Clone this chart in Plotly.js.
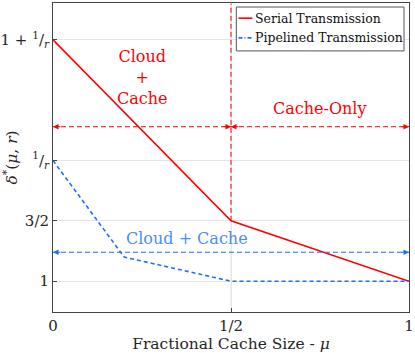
<!DOCTYPE html>
<html>
<head>
<meta charset="utf-8">
<script src="https://cdn.plot.ly/plotly-3.0.1.min.js"></script>
<style>html,body{margin:0;padding:0;background:#fff;}#chart{width:415px;height:353px;}</style>
</head>
<body>
<div id="chart"></div>
<script>
// ---- data ----
const serialX = [0, 0.5, 1];
const serialY = [3, 1.5, 1];
const pipeX = [0, 0.2, 0.5, 1];
const pipeY = [2, 1.2, 1, 1];
const seriesNames = ['Serial Transmission', 'Pipelined Transmission'];
const xTickVals = [0, 0.5, 1];
const xTickText = ['0', '1/2', '1'];
const yTickVals = [1, 1.5, 2, 3];
const yTickText = ['1', '3/2', '<sup>1</sup>/<sub><i>r</i></sub>', '1 + <sup>1</sup>/<sub><i>r</i></sub>'];
const cloudCacheSpan = [0, 0.5];   // red arrow (serial, cloud + cache)
const cacheOnlySpan = [0.5, 1];    // red arrow (serial, cache-only)
const serialArrowY = 2.28;
const pipeSpan = [0, 1];           // blue arrow (pipelined, cloud + cache)
const pipeArrowY = 1.24;
const splitX = 0.5;                // boundary mu = 1/2
const splitYFrom = 1.5;

const RED = '#ff0000';
const BLUE = '#1f6cff';
const FONT = 'DejaVu Serif';
const DASH_PIPE = '4px,3px';

const traces = [
  {x: serialX, y: serialY, mode: 'lines', name: seriesNames[0],
   line: {color: RED, width: 1.6}},
  {x: pipeX, y: pipeY, mode: 'lines', name: seriesNames[1],
   line: {color: BLUE, width: 1.6, dash: DASH_PIPE}}
];

function dashedSpan(span, y, color) {
  return {type: 'line', xref: 'x', yref: 'y', x0: span[0], x1: span[1], y0: y, y1: y,
          line: {color: color, width: 1, dash: '5px,3px'}, layer: 'above'};
}
function arrowHeads(span, y, color) {
  const d = 0.025;
  return [
    {x: span[0], y: y, ax: span[0] + d, ay: y, axref: 'x', ayref: 'y', xref: 'x', yref: 'y',
     text: '', showarrow: true, arrowhead: 2, arrowsize: 1.1, arrowwidth: 1, arrowcolor: color},
    {x: span[1], y: y, ax: span[1] - d, ay: y, axref: 'x', ayref: 'y', xref: 'x', yref: 'y',
     text: '', showarrow: true, arrowhead: 2, arrowsize: 1.1, arrowwidth: 1, arrowcolor: color}
  ];
}

// manual legend (paper coordinates), matching the short line samples of the reference
const LEG = {x0: 0.515, x1: 0.986, y0: 0.845, y1: 0.987, rows: [0.951, 0.887],
             sx0: 0.521, sx1: 0.560, tx: 0.562};

const shapes = [
  {type: 'line', xref: 'x', yref: 'paper', x0: splitX, x1: splitX, y0: 0, y1: 1,
   line: {color: '#e6e6e6', width: 1}, layer: 'below'},
  {type: 'line', xref: 'x', yref: 'y', x0: splitX, x1: splitX, y0: splitYFrom, y1: 3.3,
   line: {color: RED, width: 1, dash: '5px,3px'}, layer: 'above'},
  dashedSpan(cloudCacheSpan, serialArrowY, RED),
  dashedSpan(cacheOnlySpan, serialArrowY, RED),
  dashedSpan(pipeSpan, pipeArrowY, BLUE),
  {type: 'rect', xref: 'paper', yref: 'paper', x0: LEG.x0, x1: LEG.x1, y0: LEG.y0, y1: LEG.y1,
   fillcolor: '#fff', line: {color: '#555', width: 1}, layer: 'above'},
  {type: 'line', xref: 'paper', yref: 'paper', x0: LEG.sx0, x1: LEG.sx1, y0: LEG.rows[0], y1: LEG.rows[0],
   line: {color: RED, width: 1.6}, layer: 'above'},
  {type: 'line', xref: 'paper', yref: 'paper', x0: LEG.sx0, x1: LEG.sx1, y0: LEG.rows[1], y1: LEG.rows[1],
   line: {color: BLUE, width: 1.6, dash: '4px,2px,1px,2px'}, layer: 'above'}
];

const annotations = [
  ...arrowHeads(cloudCacheSpan, serialArrowY, RED),
  ...arrowHeads(cacheOnlySpan, serialArrowY, RED),
  ...arrowHeads(pipeSpan, pipeArrowY, BLUE),
  {x: 0.25, y: 2.69, xref: 'x', yref: 'y', text: 'Cloud<br>+<br>Cache', showarrow: false,
   font: {family: FONT, size: 16, color: RED}},
  {x: 0.75, y: 2.43, xref: 'x', yref: 'y', text: 'Cache-Only', showarrow: false,
   font: {family: FONT, size: 16, color: RED}},
  {x: 0.375, y: 1.355, xref: 'x', yref: 'y', text: 'Cloud + Cache', showarrow: false,
   font: {family: FONT, size: 16, color: '#4a8dff'}},
  {x: LEG.tx, y: LEG.rows[0], xref: 'paper', yref: 'paper', xanchor: 'left', yanchor: 'middle',
   text: seriesNames[0], showarrow: false, font: {family: FONT, size: 12.5, color: '#111'}},
  {x: LEG.tx, y: LEG.rows[1], xref: 'paper', yref: 'paper', xanchor: 'left', yanchor: 'middle',
   text: seriesNames[1], showarrow: false, font: {family: FONT, size: 12.5, color: '#111'}}
];

const layout = {
  width: 415, height: 353,
  margin: {l: 53, r: 6, t: 3, b: 41},
  paper_bgcolor: '#fff', plot_bgcolor: '#fff',
  font: {family: FONT, size: 15, color: '#262626'},
  showlegend: false,
  xaxis: {range: [0, 1], tickvals: xTickVals, ticktext: xTickText,
          showgrid: true, gridcolor: '#e6e6e6', zeroline: false,
          showline: true, linecolor: '#444', linewidth: 1, mirror: true,
          ticks: 'inside', ticklen: 4, tickcolor: '#444',
          title: {text: 'Fractional Cache Size - <i>μ</i>', font: {family: FONT, size: 15.5}, standoff: 2}},
  yaxis: {range: [0.745, 3.305], tickvals: yTickVals, ticktext: yTickText,
          showgrid: true, gridcolor: '#e6e6e6', zeroline: false,
          showline: true, linecolor: '#444', linewidth: 1, mirror: true,
          ticks: 'inside', ticklen: 4, tickcolor: '#444',
          title: {text: '<i>δ</i><sup>*</sup>(<i>μ</i>, <i>r</i>)', font: {family: FONT, size: 15.5}, standoff: 4}},
  shapes: shapes,
  annotations: annotations
};

Plotly.newPlot('chart', traces, layout, {displayModeBar: false, staticPlot: true});
</script>
</body>
</html>
